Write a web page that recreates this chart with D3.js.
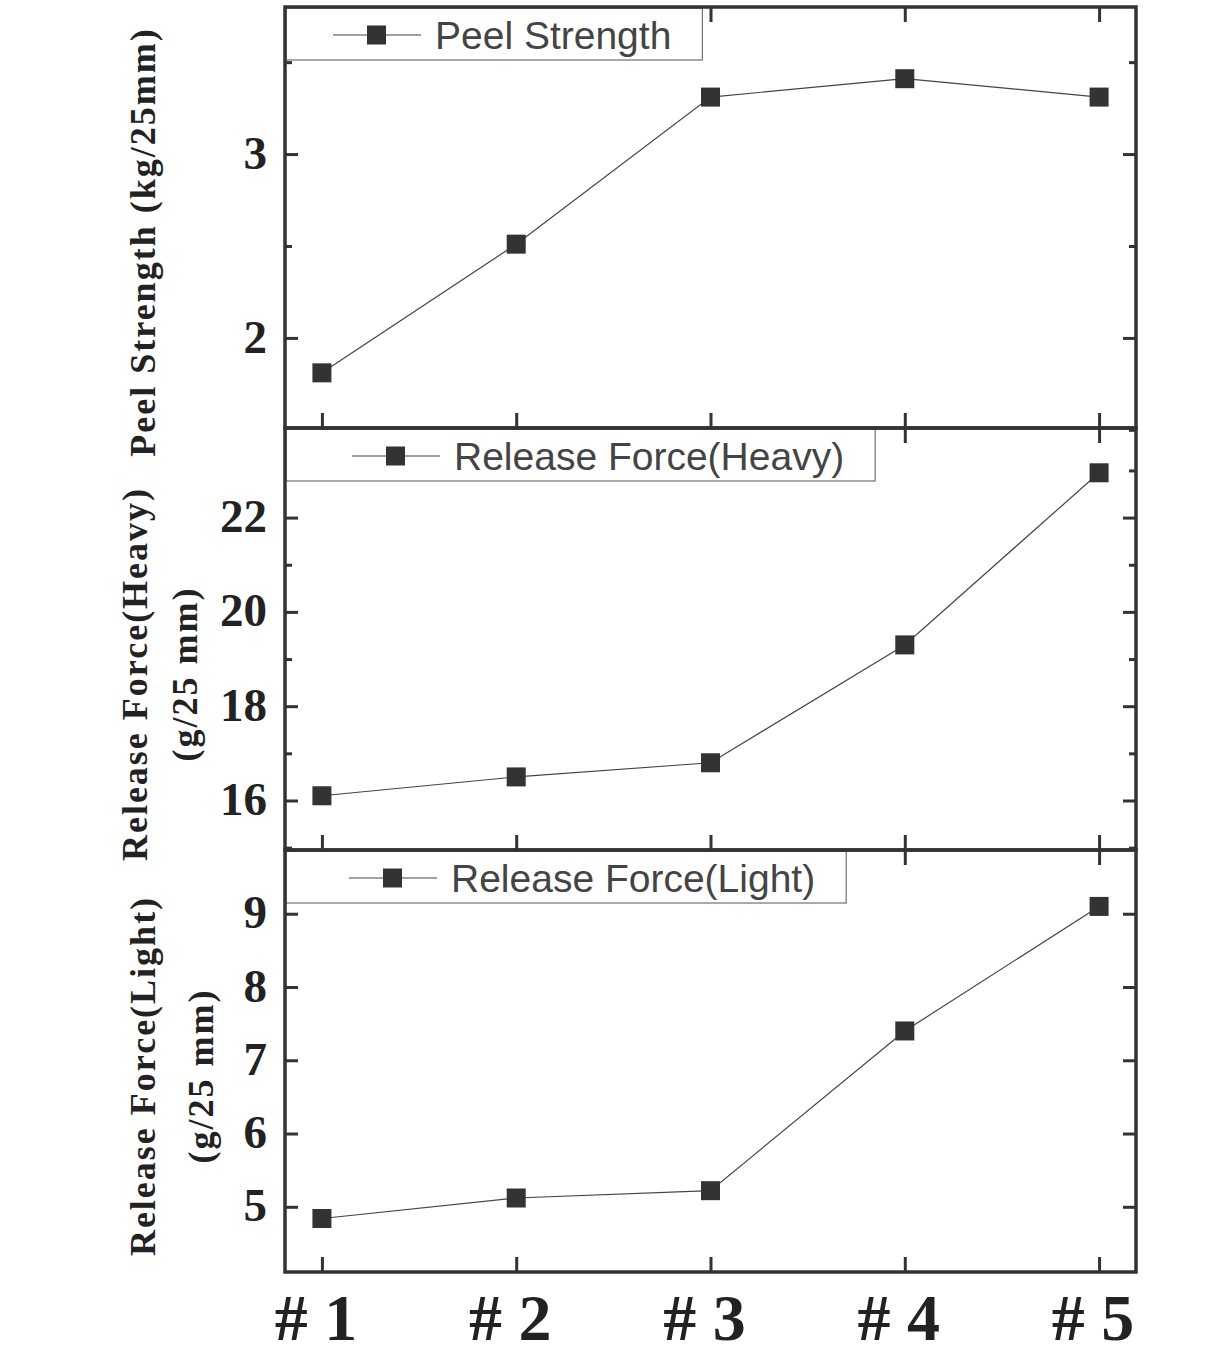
<!DOCTYPE html>
<html lang="en">
<head>
    <meta charset="UTF-8">
    <title>Peel Strength and Release Force</title>
    <script src="https://d3js.org/d3.v7.min.js"></script>
    <style>
        body { margin: 0; background: #fff; }
        svg { display: block; }
    </style>
</head>
<body>
<svg width="1229" height="1368"></svg>
<script type="text/javascript">

    // sample names on the x axis
    var samples = ["# 1", "# 2", "# 3", "# 4", "# 5"];

    // values
    var peelStrength = [1.81, 2.51, 3.31, 3.41, 3.31];
    var releaseHeavy = [16.1, 16.5, 16.8, 19.3, 22.95];
    var releaseLight = [4.84, 5.12, 5.22, 7.4, 9.1];

    // tick values for each panel
    var peelTicks = [2, 3];
    var peelMinor = [1.5, 2.5, 3.5];
    var heavyTicks = [16, 18, 20, 22];
    var heavyMinor = [15, 17, 19, 21, 23];
    var lightTicks = [5, 6, 7, 8, 9];
    var lightMinor = [];

    var width = 1229;
    var height = 1368;
    var svg = d3.select("svg")
        .attr("width", width)
        .attr("height", height);

    var left = 285, right = 1136;
    var ink = "#333";

    var x = d3.scalePoint()
        .domain(samples)
        .range([left, right])
        .padding(0.19);

    // one entry per stacked panel
    var panels = [
        { top: 7,   bottom: 428,  domain: [1.51, 3.8],   values: peelStrength, ticks: peelTicks,  minor: peelMinor,
          legend: "Peel Strength", legendX: 48, title: ["Peel Strength (kg/25mm)"], titleX: [155], titleY: 242 },
        { top: 428, bottom: 850,  domain: [14.95, 23.9], values: releaseHeavy, ticks: heavyTicks, minor: heavyMinor,
          legend: "Release Force(Heavy)", legendX: 67, title: ["Release Force(Heavy)", "(g/25 mm)"], titleX: [147, 197], titleY: 674 },
        { top: 850, bottom: 1272, domain: [4.11, 9.87],  values: releaseLight, ticks: lightTicks, minor: lightMinor,
          legend: "Release Force(Light)", legendX: 64, title: ["Release Force(Light)", "(g/25 mm)"], titleX: [155, 213], titleY: 1076 }
    ];

    panels.forEach(function(p) {
        var y = d3.scaleLinear().domain(p.domain).range([p.bottom, p.top]);
        var g = svg.append("g");

        // y ticks pointing inward on both sides
        var yLeft = g.append("g")
            .attr("transform", "translate(" + left + ",0)")
            .call(d3.axisLeft(y).tickValues(p.ticks).tickSize(-13).tickPadding(18).tickFormat(d3.format("d")));
        yLeft.append("g").call(d3.axisLeft(y).tickValues(p.minor).tickSize(-7).tickFormat(""));
        var yRight = g.append("g")
            .attr("transform", "translate(" + right + ",0)")
            .call(d3.axisRight(y).tickValues(p.ticks).tickSize(-13).tickFormat(""));
        yRight.append("g").call(d3.axisRight(y).tickValues(p.minor).tickSize(-7).tickFormat(""));

        // x ticks on top and bottom, inward
        g.append("g")
            .attr("transform", "translate(0," + p.bottom + ")")
            .call(d3.axisBottom(x).tickSize(-15).tickFormat(""));
        g.append("g")
            .attr("transform", "translate(0," + p.top + ")")
            .call(d3.axisTop(x).tickSize(-15).tickFormat(""));

        g.selectAll(".domain").remove();
        g.selectAll(".tick line").attr("stroke", ink).attr("stroke-width", 3);
        yLeft.selectAll(".tick text")
            .attr("font-family", "Liberation Serif, Times New Roman, serif")
            .attr("font-weight", "bold")
            .attr("font-size", 47)
            .attr("fill", "#222")
            .attr("dy", "0.3em");

        // data line and square markers
        var line = d3.line()
            .x(function(d, i) { return x(samples[i]); })
            .y(function(d) { return y(d); });
        g.append("path")
            .datum(p.values)
            .attr("d", line)
            .attr("fill", "none")
            .attr("stroke", "#444")
            .attr("stroke-width", 1.2);
        g.selectAll("rect.pt")
            .data(p.values)
            .enter().append("rect")
            .attr("class", "pt")
            .attr("x", function(d, i) { return x(samples[i]) - 9.5; })
            .attr("y", function(d) { return y(d) - 9.5; })
            .attr("width", 19)
            .attr("height", 19)
            .attr("fill", ink);

        // legend box in the top-left corner
        var lg = g.append("g").attr("transform", "translate(" + left + "," + p.top + ")");
        var box = lg.append("rect")
            .attr("x", 1).attr("y", 1)
            .attr("height", 52)
            .attr("fill", "#fff")
            .attr("stroke", "#555")
            .attr("stroke-width", 1);
        var lx = p.legendX;
        lg.append("line")
            .attr("x1", lx).attr("x2", lx + 88)
            .attr("y1", 28).attr("y2", 28)
            .attr("stroke", "#444").attr("stroke-width", 1.2);
        lg.append("rect")
            .attr("x", lx + 34).attr("y", 18.5)
            .attr("width", 19).attr("height", 19)
            .attr("fill", ink);
        var lt = lg.append("text")
            .attr("x", lx + 102)
            .attr("y", 42)
            .attr("font-family", "Liberation Sans, Arial, sans-serif")
            .attr("font-size", 39)
            .attr("fill", "#444")
            .text(p.legend);
        var tw = lt.node().getComputedTextLength();
        box.attr("width", lx + 102 + tw + 30);

        // rotated axis title
        p.title.forEach(function(t, i) {
            svg.append("text")
                .attr("transform", "translate(" + p.titleX[i] + "," + p.titleY + ") rotate(-90)")
                .attr("text-anchor", "middle")
                .attr("font-family", "Liberation Serif, Times New Roman, serif")
                .attr("font-weight", "bold")
                .attr("font-size", 36)
                .attr("letter-spacing", 2)
                .attr("fill", "#222")
                .text(t);
        });
    });

    // outer frame and panel dividers
    panels.forEach(function(p) {
        svg.append("rect")
            .attr("x", left).attr("y", p.top)
            .attr("width", right - left).attr("height", p.bottom - p.top)
            .attr("fill", "none")
            .attr("stroke", ink)
            .attr("stroke-width", 3.5);
    });

    // sample labels under the bottom panel
    svg.append("g").selectAll("text")
        .data(samples)
        .enter().append("text")
        .attr("x", function(d) { return x(d) - 6; })
        .attr("y", 1340)
        .attr("text-anchor", "middle")
        .attr("font-family", "Liberation Serif, Times New Roman, serif")
        .attr("font-weight", "bold")
        .attr("font-size", 66)
        .attr("fill", "#222")
        .text(function(d) { return d; });

</script>
</body>
</html>
